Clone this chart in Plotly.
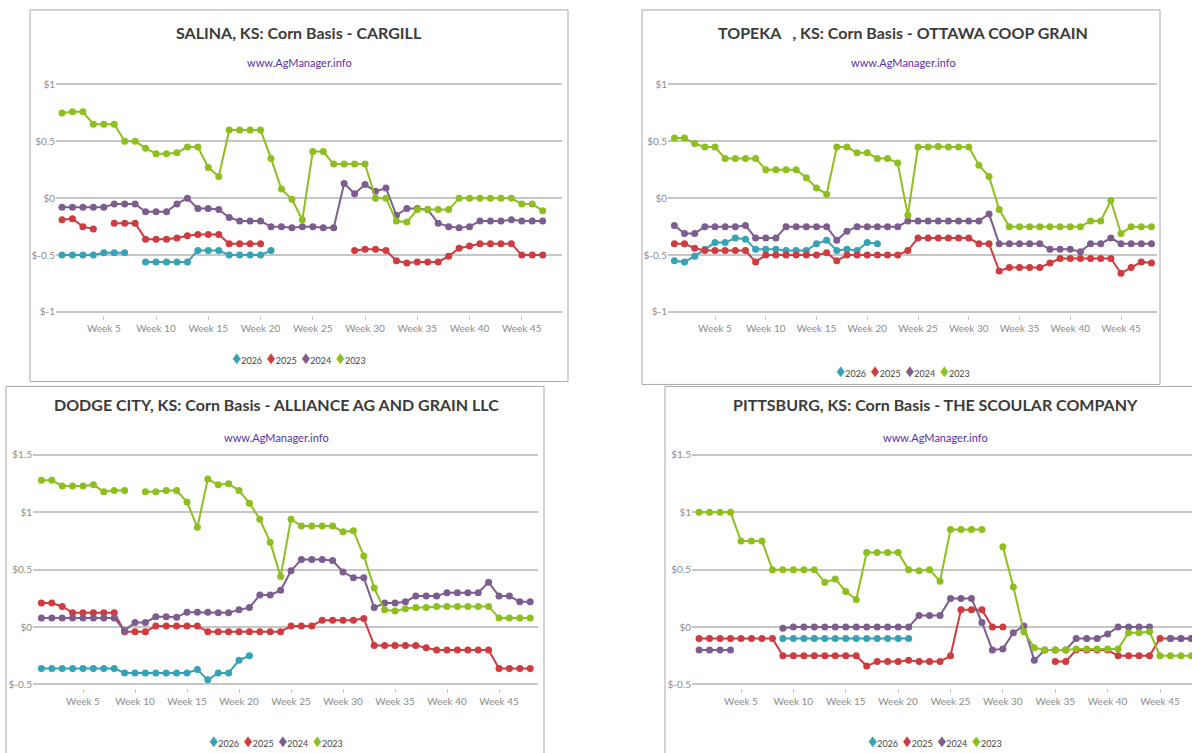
import plotly.graph_objects as go

W, H = 1192, 753

weeks = list(range(1, 49))
years = ["2026", "2025", "2024", "2023"]
colors = {"2026": "#35a2b6", "2025": "#cf3b3f", "2024": "#7d5c8f", "2023": "#8dbf1e"}

N = None
# ---------------- SALINA, KS - CARGILL ----------------
sal_2026 = [-0.50, -0.50, -0.50, -0.50, -0.48, -0.48, -0.48, N, -0.56, -0.56, -0.56, -0.56, -0.56,
            -0.46, -0.46, -0.46, -0.50, -0.50, -0.50, -0.50, -0.46]
sal_2025 = [-0.19, -0.18, -0.25, -0.27, N, -0.22, -0.22, -0.22, -0.36, -0.36, -0.36, -0.35, -0.33,
            -0.32, -0.32, -0.32, -0.40, -0.40, -0.40, -0.40, N, N, N, N, N, N, N, N,
            -0.46, -0.45, -0.45, -0.46, -0.55, -0.57, -0.56, -0.56, -0.56, -0.51, -0.44, -0.42,
            -0.40, -0.40, -0.40, -0.40, -0.50, -0.50, -0.50]
sal_2024 = [-0.08, -0.08, -0.08, -0.08, -0.08, -0.05, -0.05, -0.05, -0.12, -0.12, -0.12, -0.05, 0.0,
            -0.09, -0.09, -0.10, -0.17, -0.20, -0.20, -0.20, -0.25, -0.25, -0.26, -0.25, -0.25,
            -0.26, -0.26, 0.13, 0.04, 0.12, 0.06, 0.09, -0.15, -0.09, -0.09, -0.10, -0.22, -0.25,
            -0.26, -0.25, -0.20, -0.20, -0.20, -0.19, -0.20, -0.20, -0.20]
sal_2023 = [0.75, 0.76, 0.76, 0.65, 0.65, 0.65, 0.50, 0.50, 0.44, 0.39, 0.39, 0.40, 0.45, 0.45, 0.27,
            0.19, 0.60, 0.60, 0.60, 0.60, 0.35, 0.08, -0.01, -0.19, 0.41, 0.41, 0.30, 0.30, 0.30,
            0.30, 0.0, 0.0, -0.20, -0.21, -0.10, -0.10, -0.10, -0.10, 0.0, 0.0, 0.0, 0.0, 0.0, 0.0,
            -0.05, -0.05, -0.11]

# ---------------- TOPEKA, KS - OTTAWA COOP GRAIN ----------------
top_2026 = [-0.55, -0.56, -0.51, -0.45, -0.39, -0.39, -0.35, -0.36, -0.45, -0.45, -0.45, -0.46, -0.46,
            -0.46, -0.40, -0.37, -0.46, -0.45, -0.46, -0.39, -0.40]
top_2025 = [-0.40, -0.40, -0.44, -0.46, -0.46, -0.46, -0.46, -0.46, -0.56, -0.50, -0.50, -0.50, -0.50,
            -0.50, -0.50, -0.48, -0.55, -0.50, -0.50, -0.50, -0.50, -0.50, -0.50, -0.46, -0.35, -0.35,
            -0.35, -0.35, -0.35, -0.35, -0.40, -0.40, -0.64, -0.61, -0.61, -0.61, -0.61, -0.57, -0.53,
            -0.53, -0.53, -0.53, -0.53, -0.53, -0.66, -0.61, -0.56, -0.57]
top_2024 = [-0.24, -0.31, -0.31, -0.25, -0.25, -0.25, -0.25, -0.24, -0.35, -0.35, -0.35, -0.25, -0.25,
            -0.25, -0.25, -0.25, -0.37, -0.29, -0.25, -0.25, -0.25, -0.25, -0.25, -0.20, -0.20, -0.20,
            -0.20, -0.20, -0.20, -0.20, -0.20, -0.14, -0.40, -0.40, -0.40, -0.40, -0.40, -0.45, -0.45,
            -0.45, -0.47, -0.40, -0.40, -0.35, -0.40, -0.40, -0.40, -0.40]
top_2023 = [0.53, 0.53, 0.48, 0.45, 0.45, 0.35, 0.35, 0.35, 0.35, 0.25, 0.25, 0.25, 0.25, 0.18, 0.09,
            0.035, 0.45, 0.45, 0.40, 0.40, 0.35, 0.35, 0.31, -0.15, 0.45, 0.45, 0.455, 0.45, 0.45, 0.45,
            0.29, 0.19, -0.10, -0.25, -0.25, -0.25, -0.25, -0.25, -0.25, -0.25, -0.25, -0.20, -0.20,
            -0.02, -0.31, -0.25, -0.25, -0.25]

# ---------------- DODGE CITY, KS - ALLIANCE AG AND GRAIN LLC ----------------
dod_2026 = [-0.36, -0.36, -0.36, -0.36, -0.36, -0.36, -0.36, -0.36, -0.40, -0.40, -0.40, -0.40, -0.40,
            -0.40, -0.40, -0.37, -0.46, -0.40, -0.40, -0.29, -0.25]
dod_2025 = [0.21, 0.21, 0.18, 0.125, 0.125, 0.125, 0.125, 0.125, -0.04, -0.04, -0.04, 0.01, 0.01, 0.01,
            0.01, 0.01, -0.04, -0.04, -0.04, -0.04, -0.04, -0.04, -0.04, -0.04, 0.01, 0.01, 0.01, 0.06,
            0.06, 0.06, 0.06, 0.075, -0.16, -0.16, -0.16, -0.16, -0.16, -0.18, -0.20, -0.20, -0.20,
            -0.20, -0.20, -0.20, -0.36, -0.36, -0.36, -0.36]
dod_2024 = [0.08, 0.08, 0.08, 0.08, 0.08, 0.08, 0.08, 0.08, -0.03, 0.04, 0.04, 0.09, 0.09, 0.085, 0.13,
            0.13, 0.13, 0.125, 0.125, 0.15, 0.17, 0.28, 0.28, 0.32, 0.49, 0.59, 0.59, 0.59, 0.58, 0.48,
            0.43, 0.43, 0.17, 0.21, 0.21, 0.22, 0.27, 0.27, 0.27, 0.30, 0.30, 0.30, 0.30, 0.39, 0.27,
            0.27, 0.22, 0.22]
dod_2023 = [1.28, 1.28, 1.23, 1.23, 1.23, 1.24, 1.18, 1.19, 1.19, N, 1.18, 1.18, 1.19, 1.19, 1.09, 0.87,
            1.29, 1.24, 1.25, 1.19, 1.08, 0.94, 0.74, 0.44, 0.94, 0.88, 0.88, 0.88, 0.88, 0.83, 0.84,
            0.62, 0.34, 0.15, 0.14, 0.16, 0.17, 0.17, 0.18, 0.18, 0.18, 0.18, 0.18, 0.18, 0.08, 0.08,
            0.08, 0.08]

# ---------------- PITTSBURG, KS - THE SCOULAR COMPANY ----------------
pit_2026 = [N, N, N, N, N, N, N, N, -0.10, -0.10, -0.10, -0.10, -0.10, -0.10, -0.10, -0.10, -0.10,
            -0.10, -0.10, -0.10, -0.10]
pit_2025 = [-0.10, -0.10, -0.10, -0.10, -0.10, -0.10, -0.10, -0.10, -0.25, -0.25, -0.25, -0.25, -0.25,
            -0.25, -0.25, -0.25, -0.34, -0.30, -0.30, -0.30, -0.29, -0.30, -0.30, -0.30, -0.25, 0.15,
            0.15, 0.15, 0.0, 0.0, N, N, N, N, -0.30, -0.30, -0.20, -0.20, -0.20, -0.20, -0.25, -0.25,
            -0.25, -0.25, -0.10, -0.10, -0.10, -0.10]
pit_2024 = [-0.20, -0.20, -0.20, -0.20, N, N, N, N, -0.01, 0.0, 0.0, 0.0, 0.0, 0.0, 0.0, 0.0, 0.0,
            0.0, 0.0, 0.0, 0.0, 0.10, 0.10, 0.10, 0.25, 0.25, 0.25, 0.04, -0.20, -0.19, -0.05, 0.01,
            -0.29, -0.20, -0.20, -0.20, -0.10, -0.10, -0.10, -0.06, 0.0, 0.0, 0.0, 0.0, N, -0.10,
            -0.10, -0.10]
pit_2023 = [1.00, 1.00, 1.00, 1.00, 0.75, 0.75, 0.75, 0.50, 0.50, 0.50, 0.50, 0.50, 0.39, 0.42, 0.31,
            0.24, 0.65, 0.65, 0.65, 0.65, 0.50, 0.49, 0.50, 0.40, 0.85, 0.85, 0.85, 0.85, N, 0.70, 0.35,
            -0.04, -0.18, -0.20, -0.20, -0.20, -0.19, -0.19, -0.19, -0.19, -0.19, -0.05, -0.05, -0.04,
            -0.25, -0.25, -0.25, -0.25]

titles = ["SALINA, KS: Corn Basis - CARGILL",
          "TOPEKA\u00a0\u00a0\u00a0, KS: Corn Basis - OTTAWA COOP GRAIN",
          "DODGE CITY, KS: Corn Basis - ALLIANCE AG AND GRAIN LLC",
          "PITTSBURG, KS: Corn Basis - THE SCOULAR COMPANY"]
subtitle = "www.AgManager.info"
week_ticks = [5, 10, 15, 20, 25, 30, 35, 40, 45]
week_labels = ["Week %d" % w for w in week_ticks]
yticks_top = [-1, -0.5, 0, 0.5, 1]
yticks_bot = [-0.5, 0, 0.5, 1, 1.5]

series = [
    {"2026": sal_2026, "2025": sal_2025, "2024": sal_2024, "2023": sal_2023},
    {"2026": top_2026, "2025": top_2025, "2024": top_2024, "2023": top_2023},
    {"2026": dod_2026, "2025": dod_2025, "2024": dod_2024, "2023": dod_2023},
    {"2026": pit_2026, "2025": pit_2025, "2024": pit_2024, "2023": pit_2023},
]

# layout geometry (pixels)
panels = [
    dict(box=(30, 7, 568, 381), gx=(56, 562), w1=62.0, wpx=10.45, ypx=(82, 311), yt=yticks_top,
         tx=299, ty=30, sy=60, ly=356),
    dict(box=(642, 7, 1160, 384), gx=(668, 1157), w1=674.4, wpx=10.15, ypx=(82, 311), yt=yticks_top,
         tx=903, ty=30, sy=60, ly=369),
    dict(box=(6, 386, 544, 760), gx=(33, 538), w1=41.4, wpx=10.4, ypx=(455, 686), yt=yticks_bot,
         tx=276, ty=404, sy=437, ly=742),
    dict(box=(665, 386, 1200, 760), gx=(692, 1192), w1=699.1, wpx=10.475, ypx=(455, 686), yt=yticks_bot,
         tx=935, ty=404, sy=437, ly=742),
]

FONT = "Lato, Roboto, sans-serif"
fig = go.Figure()
layout = dict(width=W, height=H, margin=dict(l=0, r=0, t=0, b=0), paper_bgcolor="white",
              plot_bgcolor="white", showlegend=False, shapes=[], annotations=[])

for i, (p, ser) in enumerate(zip(panels, series)):
    k = "" if i == 0 else str(i + 1)
    x0, x1 = p["gx"]
    lo = 1 - (p["w1"] - x0) / p["wpx"]
    hi = 1 + (x1 - p["w1"]) / p["wpx"]
    ymin, ymax = min(p["yt"]), max(p["yt"])
    ppu = (p["ypx"][1] - p["ypx"][0]) / (ymax - ymin)
    pad = 0.03
    dtop = p["ypx"][0] - pad * ppu
    dbot = p["ypx"][1] + pad * ppu
    layout["xaxis" + k] = dict(domain=[x0 / W, min(1, x1 / W)], range=[lo, hi], anchor="y" + k,
                               tickvals=week_ticks, ticktext=week_labels, showgrid=False,
                               zeroline=False, showline=False, ticks="outside", ticklen=4,
                               tickcolor="#c4c4c4", tickfont=dict(family=FONT, size=10, color="#8c8c8c"))
    layout["yaxis" + k] = dict(domain=[1 - dbot / H, 1 - dtop / H], range=[ymin - pad, ymax + pad],
                               anchor="x" + k, tickvals=p["yt"],
                               ticktext=["$%g" % v for v in p["yt"]], showgrid=True,
                               gridcolor="#c6c6c6", gridwidth=2, zeroline=False, showline=False,
                               ticks="", tickfont=dict(family=FONT, size=10, color="#8c8c8c"))
    for yr in years:
        vals = ser[yr]
        fig.add_trace(go.Scatter(x=weeks[:len(vals)], y=vals, mode="lines+markers", name=yr,
                                 xaxis="x" + k, yaxis="y" + k, connectgaps=False,
                                 line=dict(color=colors[yr], width=2),
                                 marker=dict(color=colors[yr], size=7, symbol="circle")))
    bx0, by0, bx1, by1 = p["box"]
    layout["shapes"].append(dict(type="rect", xref="paper", yref="paper", x0=bx0 / W, x1=bx1 / W,
                                 y0=1 - by1 / H, y1=1 - by0 / H,
                                 line=dict(color="#a8a8a8", width=1), layer="below"))
    layout["annotations"].append(dict(text=titles[i], x=p["tx"] / W, y=1 - p["ty"] / H, xref="paper",
                                      yref="paper", showarrow=False, xanchor="center", yanchor="middle",
                                      font=dict(family=FONT, size=16, color="#3b3b3b", weight="bold")))
    layout["annotations"].append(dict(text=subtitle, x=p["tx"] / W, y=1 - p["sy"] / H, xref="paper",
                                      yref="paper", showarrow=False, xanchor="center", yanchor="middle",
                                      font=dict(family=FONT, size=11, color="#5a30a6")))
    legend_txt = "\u2002".join("<span style='color:%s;font-size:18px'>\u2666</span>%s" % (colors[y], y)
                               for y in years)
    layout["annotations"].append(dict(text=legend_txt, x=p["tx"] / W, y=1 - p["ly"] / H, xref="paper",
                                      yref="paper", showarrow=False, xanchor="center", yanchor="middle",
                                      font=dict(family=FONT, size=9, color="#444444")))

fig.update_layout(**layout)
fig.write_html("out.html", config={"displayModeBar": False},
               post_script="document.body.style.margin='0px';document.body.style.overflow='hidden';")
